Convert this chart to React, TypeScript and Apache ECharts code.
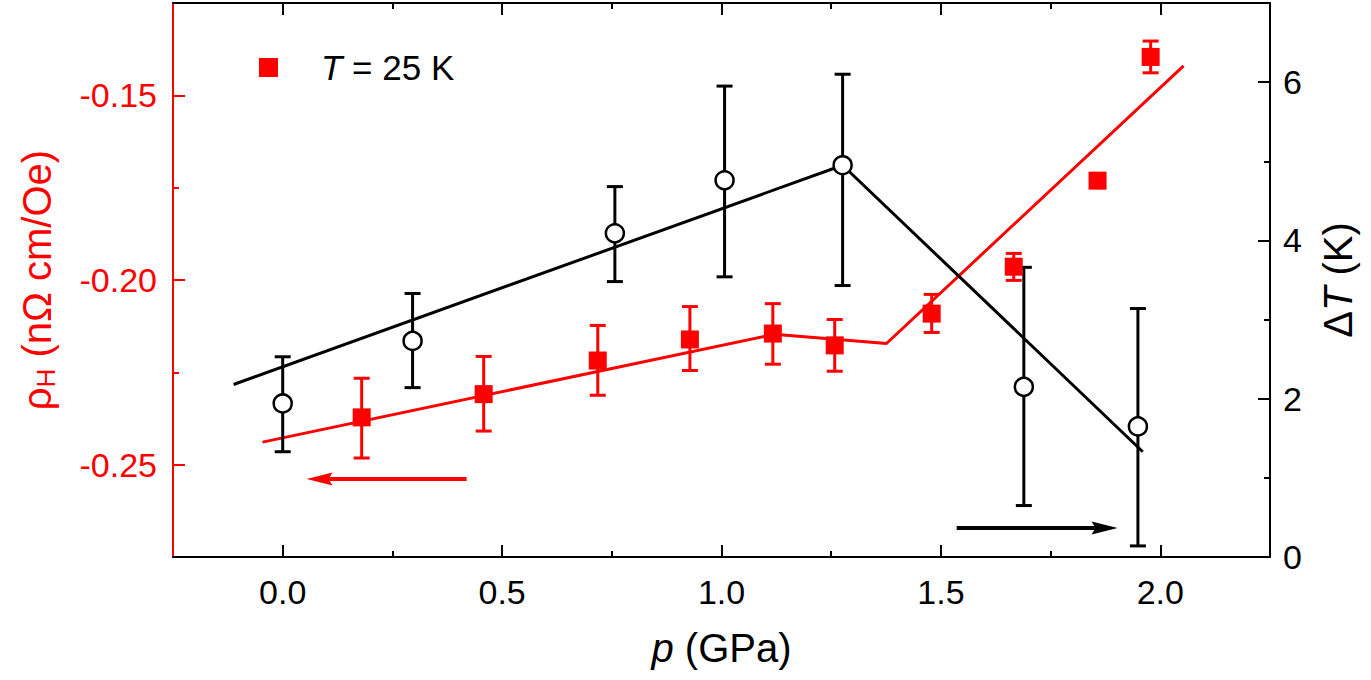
import React, { useEffect, useRef } from 'react';
import * as echarts from 'echarts';

const FONT = "'Liberation Sans', Arial, Helvetica, sans-serif";
const RED = '#ff0000';
const BLACK = '#000000';

// Tick values
const pTicks = [0, 0.5, 1.0, 1.5, 2.0];
const pMinorTicks = [0.25, 0.75, 1.25, 1.75];
const rhoTicks = [-0.25, -0.2, -0.15];
const rhoMinorTicks = [-0.225, -0.175];
const dtTicks = [0, 2, 4, 6];
const dtMinorTicks = [1, 3, 5];

// Red data: Hall resistivity at T = 25 K (left axis)
const redP = [0.18, 0.458, 0.718, 0.928, 1.117, 1.258, 1.479, 1.666, 1.857, 1.978];
const redRho = [-0.2372, -0.2309, -0.2218, -0.2161, -0.2145, -0.2177, -0.2091, -0.1964, -0.1731, -0.1396];
const redLo = [-0.2482, -0.2409, -0.2312, -0.2245, -0.2228, -0.2247, -0.2142, -0.2001, -0.1736, -0.1439];
const redHi = [-0.2266, -0.2207, -0.2123, -0.2072, -0.2064, -0.2107, -0.2039, -0.1928, -0.1726, -0.1353];

// Black data: ΔT (right axis)
const blackP = [0.0, 0.296, 0.757, 1.007, 1.276, 1.689, 1.949];
const blackDT = [1.94, 2.73, 4.09, 4.76, 4.95, 2.15, 1.65];
const blackLo = [1.33, 2.14, 3.48, 3.54, 3.43, 0.65, 0.14];
const blackHi = [2.53, 3.33, 4.68, 5.95, 6.10, 3.66, 3.14];

// Guide lines
const redFitP = [-0.046, 1.12, 1.376, 2.053];
const redFitRho = [-0.2439, -0.2147, -0.2172, -0.142];
const blackFitP = [-0.112, 1.276, 1.96];
const blackFitDT = [2.18, 4.95, 1.33];

// Arrows
const leftArrowP = [0.419, 0.084];
const leftArrowRho = [-0.2539, -0.2539];
const rightArrowP = [1.536, 1.873];
const rightArrowDT = [0.367, 0.367];

const LEFT_HEAD = 'path://M0,6.5 L26,0 L22,6.5 L26,13 Z';
const RIGHT_HEAD = 'path://M26,6.5 L0,0 L4,6.5 L0,13 Z';

const makeErr = (xs: number[], lo: number[], hi: number[], color: string, yIdx: number) => ({
  type: 'custom',
  xAxisIndex: 0,
  yAxisIndex: yIdx,
  silent: true,
  z: 3,
  data: xs.map((x, i) => [x, lo[i], hi[i]]),
  encode: { x: 0, y: [1, 2] },
  renderItem: (_params: any, api: any) => {
    const a = api.coord([api.value(0), api.value(1)]);
    const b = api.coord([api.value(0), api.value(2)]);
    const hw = 8;
    const st = { stroke: color, lineWidth: 3 };
    return {
      type: 'group',
      children: [
        { type: 'line', shape: { x1: a[0], y1: a[1], x2: b[0], y2: b[1] }, style: st },
        { type: 'line', shape: { x1: a[0] - hw, y1: a[1], x2: a[0] + hw, y2: a[1] }, style: st },
        { type: 'line', shape: { x1: b[0] - hw, y1: b[1], x2: b[0] + hw, y2: b[1] }, style: st },
      ],
    };
  },
});

const xBase = { type: 'value', min: -0.25, max: 2.25, splitLine: { show: false }, nameMoveOverlap: false };

const option: any = {
  animation: false,
  backgroundColor: '#fff',
  textStyle: { fontFamily: FONT },
  grid: { left: 173, right: 101, top: 3, bottom: 123, containLabel: false },
  legend: {
    left: 254,
    top: 45,
    data: ['T = 25 K'],
    icon: 'rect',
    itemWidth: 19,
    itemHeight: 19,
    formatter: () => '{i|T} = 25 K',
    itemStyle: { opacity: 1 },
    textStyle: {
      fontFamily: FONT,
      fontSize: 35,
      color: BLACK,
      padding: [0, 0, 0, 38],
      rich: { i: { fontFamily: FONT, fontSize: 35, fontStyle: 'italic', color: BLACK } },
    },
  },
  xAxis: [
    {
      ...xBase,
      position: 'bottom',
      name: '{i|p} (GPa)',
      nameLocation: 'middle',
      nameGap: 71,
      nameTextStyle: {
        fontFamily: FONT,
        fontSize: 40,
        color: BLACK,
        rich: { i: { fontFamily: FONT, fontSize: 40, fontStyle: 'italic', color: BLACK } },
      },
      axisLine: { show: true, onZero: false, lineStyle: { color: BLACK, width: 2 } },
      axisTick: { show: true, inside: true, length: 12, customValues: pTicks, lineStyle: { color: BLACK, width: 2 } },
      axisLabel: {
        show: true,
        customValues: pTicks,
        margin: 18,
        fontSize: 34,
        fontFamily: FONT,
        color: BLACK,
        formatter: (v: number) => v.toFixed(1),
      },
    },
    {
      ...xBase,
      position: 'bottom',
      axisLine: { show: false, onZero: false },
      axisTick: { show: true, inside: true, length: 6, customValues: pMinorTicks, lineStyle: { color: BLACK, width: 2 } },
      axisLabel: { show: false },
    },
    {
      ...xBase,
      position: 'top',
      axisLine: { show: true, onZero: false, lineStyle: { color: BLACK, width: 2 } },
      axisTick: { show: true, inside: true, length: 12, customValues: pTicks, lineStyle: { color: BLACK, width: 2 } },
      axisLabel: { show: false },
    },
    {
      ...xBase,
      position: 'top',
      axisLine: { show: false, onZero: false },
      axisTick: { show: true, inside: true, length: 6, customValues: pMinorTicks, lineStyle: { color: BLACK, width: 2 } },
      axisLabel: { show: false },
    },
  ],
  yAxis: [
    {
      type: 'value',
      position: 'left',
      min: -0.275,
      max: -0.125,
      splitLine: { show: false },
      nameMoveOverlap: false,
      name: '{r|ρ}{s|H} (nΩ cm/Oe)',
      nameLocation: 'middle',
      nameRotate: 90,
      nameGap: 114,
      nameTextStyle: {
        fontFamily: FONT,
        fontSize: 40,
        color: RED,
        rich: {
          r: { fontFamily: FONT, fontSize: 40, color: RED },
          s: { fontFamily: FONT, fontSize: 26, color: RED, verticalAlign: 'bottom', padding: [18, 0, 0, 0] },
        },
      },
      axisLine: { show: true, onZero: false, lineStyle: { color: RED, width: 2 } },
      axisTick: { show: true, inside: true, length: 12, customValues: rhoTicks, lineStyle: { color: RED, width: 2 } },
      axisLabel: {
        show: true,
        customValues: rhoTicks,
        margin: 16,
        fontSize: 34,
        fontFamily: FONT,
        color: RED,
        formatter: (v: number) => v.toFixed(2),
      },
    },
    {
      type: 'value',
      position: 'right',
      min: 0,
      max: 7,
      splitLine: { show: false },
      nameMoveOverlap: false,
      name: '{d|Δ}{i|T} (K)',
      nameLocation: 'middle',
      nameRotate: 90,
      nameGap: 48,
      nameTextStyle: {
        fontFamily: FONT,
        fontSize: 40,
        color: BLACK,
        rich: {
          d: { fontFamily: FONT, fontSize: 40, color: BLACK },
          i: { fontFamily: FONT, fontSize: 40, fontStyle: 'italic', color: BLACK },
        },
      },
      axisLine: { show: true, onZero: false, lineStyle: { color: BLACK, width: 2 } },
      axisTick: { show: true, inside: true, length: 12, customValues: dtTicks, lineStyle: { color: BLACK, width: 2 } },
      axisLabel: {
        show: true,
        customValues: dtTicks,
        margin: 13,
        fontSize: 34,
        fontFamily: FONT,
        color: BLACK,
        formatter: (v: number) => String(v),
      },
    },
    {
      type: 'value',
      position: 'left',
      min: -0.275,
      max: -0.125,
      splitLine: { show: false },
      axisLine: { show: false, onZero: false },
      axisTick: { show: true, inside: true, length: 6, customValues: rhoMinorTicks, lineStyle: { color: RED, width: 2 } },
      axisLabel: { show: false },
    },
    {
      type: 'value',
      position: 'right',
      min: 0,
      max: 7,
      splitLine: { show: false },
      axisLine: { show: false, onZero: false },
      axisTick: { show: true, inside: true, length: 6, customValues: dtMinorTicks, lineStyle: { color: BLACK, width: 2 } },
      axisLabel: { show: false },
    },
  ],
  series: [
    {
      type: 'line',
      name: 'red fit',
      xAxisIndex: 0,
      yAxisIndex: 0,
      data: redFitP.map((p, i) => [p, redFitRho[i]]),
      showSymbol: false,
      symbol: 'none',
      lineStyle: { color: RED, width: 3 },
      z: 2,
      silent: true,
    },
    {
      type: 'line',
      name: 'black fit',
      xAxisIndex: 0,
      yAxisIndex: 1,
      data: blackFitP.map((p, i) => [p, blackFitDT[i]]),
      showSymbol: false,
      symbol: 'none',
      lineStyle: { color: BLACK, width: 3 },
      z: 2,
      silent: true,
    },
    makeErr(redP, redLo, redHi, RED, 0),
    makeErr(blackP, blackLo, blackHi, BLACK, 1),
    {
      type: 'scatter',
      name: 'T = 25 K',
      xAxisIndex: 0,
      yAxisIndex: 0,
      data: redP.map((p, i) => [p, redRho[i]]),
      symbol: 'rect',
      symbolSize: 18,
      itemStyle: { color: RED, opacity: 1 },
      z: 5,
    },
    {
      type: 'scatter',
      name: 'ΔT',
      xAxisIndex: 0,
      yAxisIndex: 1,
      data: blackP.map((p, i) => [p, blackDT[i]]),
      symbol: 'circle',
      symbolSize: 18,
      itemStyle: { color: '#ffffff', borderColor: BLACK, borderWidth: 2.5, opacity: 1 },
      z: 5,
    },
    {
      type: 'line',
      name: 'left arrow',
      xAxisIndex: 0,
      yAxisIndex: 0,
      data: [
        { value: [leftArrowP[0], leftArrowRho[0]], symbol: 'none' },
        { value: [leftArrowP[1], leftArrowRho[1]], symbol: LEFT_HEAD, symbolSize: [26, 13] },
      ],
      showSymbol: true,
      lineStyle: { color: RED, width: 4 },
      itemStyle: { color: RED, borderWidth: 0 },
      z: 4,
      silent: true,
    },
    {
      type: 'line',
      name: 'right arrow',
      xAxisIndex: 0,
      yAxisIndex: 1,
      data: [
        { value: [rightArrowP[0], rightArrowDT[0]], symbol: 'none' },
        { value: [rightArrowP[1], rightArrowDT[1]], symbol: RIGHT_HEAD, symbolSize: [26, 13] },
      ],
      showSymbol: true,
      lineStyle: { color: BLACK, width: 4 },
      itemStyle: { color: BLACK, borderWidth: 0 },
      z: 4,
      silent: true,
    },
  ],
};

export default function App() {
  const ref = useRef<HTMLDivElement>(null);
  useEffect(() => {
    const chart = echarts.init(ref.current!, null, { renderer: 'svg' });
    chart.setOption(option);
    return () => chart.dispose();
  }, []);
  return (
    <div
      ref={ref}
      style={{ position: 'fixed', left: 0, top: 0, width: 1371, height: 680, background: '#fff' }}
    />
  );
}
